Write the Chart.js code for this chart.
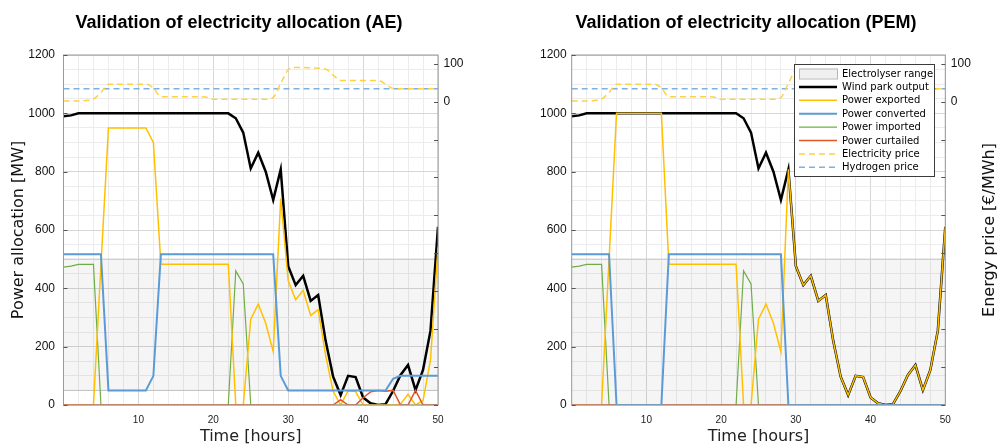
<!DOCTYPE html>
<html>
<head>
<meta charset="utf-8">
<script src="https://cdn.jsdelivr.net/npm/chart.js@4.4.1/dist/chart.umd.min.js"></script>
<style>
  body { margin: 0; background: #fff; width: 998px; height: 445px; overflow: hidden; position: relative; }
  canvas { position: absolute; top: 0; }
</style>
</head>
<body>
<canvas id="chartAE" width="500" height="445" style="left:0"></canvas>
<canvas id="chartPEM" width="498" height="445" style="left:500px"></canvas>
<script>
// time axis [hours]
const hours = [0,1,2,3,4,5,6,7,8,9,10,11,12,13,14,15,16,17,18,19,20,21,22,23,24,25,
  26,27,28,29,30,31,32,33,34,35,36,37,38,39,40,41,42,43,44,45,46,47,48,49,50];

// wind park output [MW] (same for both runs)
const windOutput = [990,993,1000,1000,1000,1000,1000,1000,1000,1000,1000,1000,1000,1000,1000,1000,
  1000,1000,1000,1000,1000,1000,1000,983,934,811,865,800,703,808,476,411,443,357,377,220,
  97,34,100,96,26,6,0,3,48,103,137,51,120,255,611];

// AE run [MW]
const exportedAE = [0,0,0,0,0,480,950,950,950,950,950,950,900,483,483,483,483,483,483,483,
  483,483,483,0,0,294,346,280,183,708,426,361,393,307,327,170,47,0,49,46,0,0,0,0,0,3,37,0,15,155,540];
const convertedAE = [517,517,517,517,517,517,50,50,50,50,50,50,100,517,517,517,517,517,517,517,
  517,517,517,517,517,517,517,517,517,100,50,50,50,50,50,50,50,50,50,50,50,50,50,50,90,100,100,100,100,100,100];
const importedAE = [473,476,482,482,482,0,0,0,0,0,0,0,0,0,0,0,0,0,0,0,0,0,0,460,415,0,
  0,0,0,0,0,0,0,0,0,0,0,0,0,0,0,0,0,0,0,0,0,0,0,0,0];
const curtailedAE = [0,0,0,0,0,0,0,0,0,0,0,0,0,0,0,0,0,0,0,0,0,0,0,0,0,0,0,0,0,0,0,0,0,0,0,0,0,
  18,0,0,25,45,50,47,50,0,0,50,0,0,0];

// PEM run [MW]
const exportedPEM = [0,0,0,0,0,500,1000,1000,1000,1000,1000,1000,1000,483,483,483,483,483,483,483,
  483,483,483,0,0,294,346,280,183,808,476,411,443,357,377,220,97,34,100,96,26,6,0,3,48,103,137,51,120,255,611];
const convertedPEM = [517,517,517,517,517,517,0,0,0,0,0,0,0,517,517,517,517,517,517,517,
  517,517,517,517,517,517,517,517,517,0,0,0,0,0,0,0,0,0,0,0,0,0,0,0,0,0,0,0,0,0,0];
const importedPEM = [473,476,482,482,482,0,0,0,0,0,0,0,0,0,0,0,0,0,0,0,0,0,0,460,415,0,
  0,0,0,0,0,0,0,0,0,0,0,0,0,0,0,0,0,0,0,0,0,0,0,0,0];
const curtailedPEM = [0,0,0,0,0,0,0,0,0,0,0,0,0,0,0,0,0,0,0,0,0,0,0,0,0,0,0,0,0,0,0,0,0,0,0,0,0,
  0,0,0,0,0,0,0,0,0,0,0,0,0,0];

// prices [EUR/MWh]
const electricityPrice = [2,2,2,3,7,24,46,46,46,46,46,46,36,13,13,13,13,13,13,12,6,6,6,6,6,6,6,6,
  11,48,84,90,90,89,88,86,70,56,56,56,56,56,56,46,35,34,34,34,34,34,34];
const hydrogenPrice = 34;

// electrolyser operating range [MW]
const rangeAE = [50, 500];
const rangePEM = [0, 500];

// tick labels
const powerTickLabels = [0, 200, 400, 600, 800, 1000, 1200];
const timeTickLabels = [10, 20, 30, 40, 50];
const priceTickLabels = [0, 100];

const legendOrder = ['Electrolyser range', 'Wind park output', 'Power exported', 'Power converted',
  'Power imported', 'Power curtailed', 'Electricity price', 'Hydrogen price'];

const COL = {
  wind: '#000000',
  exported: '#FFC000',
  converted: '#5B9BD5',
  imported: '#70AD47',
  curtailed: '#E2542A',
  elecPrice: '#FFD145',
  h2Price: '#7FB0E3',
  band: 'rgba(0,0,0,0.04)',
  bandEdge: '#c4c4c4'
};

function series(arr) {
  return hours.map((h, i) => ({ x: h, y: arr[i] }));
}
function flat(v) {
  return [{ x: hours[0], y: v }, { x: hours[hours.length - 1], y: v }];
}

// draws titles, plot box, inward ticks, right label and (optionally) the legend box
const decorPlugin = {
  id: 'decor',
  afterDraw(chart, args, opts) {
    const ctx = chart.ctx;
    const a = chart.chartArea;
    ctx.save();
    // title
    ctx.fillStyle = '#000';
    ctx.font = 'bold 18px "Liberation Sans", Arial, sans-serif';
    ctx.textAlign = 'center';
    ctx.textBaseline = 'middle';
    ctx.fillText(opts.title, opts.titleX, 23);
    // right axis label (reads bottom to top)
    if (opts.rightTitle) {
      ctx.save();
      ctx.translate(opts.rightTitleX, (a.top + a.bottom) / 2);
      ctx.rotate(-Math.PI / 2);
      ctx.fillStyle = '#111';
      ctx.font = '16px "DejaVu Sans", sans-serif';
      ctx.fillText(opts.rightTitle, 0, 0);
      ctx.restore();
    }
    // box
    ctx.strokeStyle = '#9a9a9a';
    ctx.lineWidth = 1;
    ctx.strokeRect(a.left, a.top, a.right - a.left, a.bottom - a.top);
    // inward ticks
    ctx.strokeStyle = '#555';
    const y = chart.scales.y, y1 = chart.scales.y1;
    powerTickLabels.forEach(v => {
      const py = Math.round(y.getPixelForValue(v)) + 0.5;
      ctx.beginPath(); ctx.moveTo(a.left, py); ctx.lineTo(a.left + 4, py); ctx.stroke();
    });
    y1.ticks.forEach(t => {
      const py = Math.round(y1.getPixelForValue(t.value)) + 0.5;
      ctx.beginPath(); ctx.moveTo(a.right - 4, py); ctx.lineTo(a.right, py); ctx.stroke();
    });
    // legend
    if (opts.legend) {
      const L = opts.legend;
      ctx.fillStyle = '#fff';
      ctx.fillRect(L.x, L.y, L.w, L.h);
      ctx.strokeStyle = '#3c3c3c';
      ctx.strokeRect(L.x + 0.5, L.y + 0.5, L.w, L.h);
      ctx.font = '10px "DejaVu Sans", sans-serif';
      ctx.textAlign = 'left';
      ctx.textBaseline = 'middle';
      legendOrder.forEach((label, i) => {
        const cy = L.y + 9.5 + i * 13.4;
        const x0 = L.x + 5, x1 = L.x + 43;
        const ds = chart.data.datasets.find(d => d.label === label);
        if (label === 'Electrolyser range') {
          ctx.fillStyle = '#f0f0f0';
          ctx.fillRect(x0, cy - 5, x1 - x0, 10);
          ctx.strokeStyle = '#b8b8b8';
          ctx.strokeRect(x0 + 0.5, cy - 4.5, x1 - x0, 10);
        } else {
          ctx.strokeStyle = ds.borderColor;
          ctx.lineWidth = ds.borderWidth;
          ctx.setLineDash(ds.borderDash || []);
          ctx.beginPath(); ctx.moveTo(x0, cy); ctx.lineTo(x1, cy); ctx.stroke();
          ctx.setLineDash([]);
          ctx.lineWidth = 1;
        }
        ctx.fillStyle = '#000';
        ctx.fillText(label, L.x + 48, cy + 0.5);
      });
    }
    ctx.restore();
  }
};

function makeChart(id, cfg) {
  const datasets = [
    { label: 'Electrolyser range', data: flat(cfg.range[1]), borderColor: COL.bandEdge, borderWidth: 1,
      backgroundColor: COL.band, fill: { target: { value: cfg.range[0] } }, order: 8 },
    { label: 'Electrolyser range low', data: flat(cfg.range[0]), borderColor: COL.bandEdge, borderWidth: 1,
      fill: false, order: 9 },
    { label: 'Wind park output', data: series(windOutput), borderColor: COL.wind, borderWidth: 2.5, order: 4 },
    { label: 'Power exported', data: series(cfg.exported), borderColor: COL.exported, borderWidth: 1.5, order: 3 },
    { label: 'Power converted', data: series(cfg.converted), borderColor: COL.converted, borderWidth: 2, order: 1 },
    { label: 'Power imported', data: series(cfg.imported), borderColor: COL.imported, borderWidth: 1.2, order: 5 },
    { label: 'Power curtailed', data: series(cfg.curtailed), borderColor: COL.curtailed, borderWidth: 1.5, order: 2 },
    { label: 'Electricity price', data: series(electricityPrice), yAxisID: 'y1', borderColor: COL.elecPrice,
      borderWidth: 1.5, borderDash: [6, 4], cubicInterpolationMode: 'monotone', order: 6 },
    { label: 'Hydrogen price', data: flat(hydrogenPrice), yAxisID: 'y1', borderColor: COL.h2Price,
      borderWidth: 1.5, borderDash: [6, 4], order: 7 }
  ];
  datasets.forEach(d => { d.pointRadius = 0; d.tension = d.tension || 0; if (d.fill === undefined) d.fill = false; });

  return new Chart(document.getElementById(id), {
    type: 'line',
    data: { datasets },
    options: {
      responsive: false,
      animation: false,
      devicePixelRatio: 1,
      layout: { padding: { top: 55, left: 0, right: 0, bottom: 0 } },
      plugins: {
        legend: { display: false },
        tooltip: { enabled: false },
        decor: { title: cfg.title, titleX: cfg.titleX, legend: cfg.legend,
          rightTitle: cfg.rightTitle, rightTitleX: 490 }
      },
      scales: {
        x: {
          type: 'linear', min: 0, max: 50,
          afterFit: s => { s.height = 40; },
          border: { display: false },
          grid: { drawTicks: false, color: c => timeTickLabels.includes(c.tick.value) ? '#d6d6d6' : '#ececec' },
          ticks: {
            stepSize: 2, autoSkip: false, maxRotation: 0, padding: 9, color: '#222',
            font: { family: '"Liberation Sans", Arial, sans-serif', size: 10 },
            callback: v => timeTickLabels.includes(v) ? v : ''
          },
          title: { display: true, text: 'Time [hours]', color: '#222', padding: { top: 0, bottom: 0 },
            font: { family: '"DejaVu Sans", sans-serif', size: 16, lineHeight: 1 } }
        },
        y: {
          min: 0, max: 1200,
          afterFit: s => { s.width = cfg.leftWidth; },
          border: { display: false },
          grid: { drawTicks: false, color: c => powerTickLabels.includes(c.tick.value) ? '#d6d6d6' : '#ececec' },
          ticks: {
            stepSize: 50, autoSkip: false, padding: cfg.leftPad, color: '#111',
            font: { family: '"Liberation Sans", Arial, sans-serif', size: 12 },
            callback: v => powerTickLabels.includes(v) ? v : ''
          },
          title: { display: cfg.leftTitle, text: 'Power allocation [MW]', color: '#111', padding: { top: 10.8, bottom: 0 },
            font: { family: '"DejaVu Sans", sans-serif', size: 16, lineHeight: 1 } }
        },
        y1: {
          position: 'right', min: -800, max: 123,
          afterFit: s => { s.width = cfg.rightWidth; },
          border: { display: false },
          grid: { drawOnChartArea: false, drawTicks: false },
          ticks: {
            stepSize: 100, includeBounds: false, autoSkip: false, padding: 5.5, color: '#111',
            font: { family: '"Liberation Sans", Arial, sans-serif', size: 12 },
            callback: v => priceTickLabels.includes(v) ? v : ''
          }
        }
      }
    },
    plugins: [decorPlugin]
  });
}

makeChart('chartAE', {
  title: 'Validation of electricity allocation (AE)', titleX: 239,
  range: rangeAE, exported: exportedAE, converted: convertedAE, imported: importedAE, curtailed: curtailedAE,
  leftWidth: 63.5, rightWidth: 62, leftPad: 8.5, leftTitle: true, rightTitle: null, legend: null
});

makeChart('chartPEM', {
  title: 'Validation of electricity allocation (PEM)', titleX: 246,
  range: rangePEM, exported: exportedPEM, converted: convertedPEM, imported: importedPEM, curtailed: curtailedPEM,
  leftWidth: 71.7, rightWidth: 52.7, leftPad: 5, leftTitle: false, rightTitle: 'Energy price [€/MWh]',
  legend: { x: 294, y: 64, w: 140, h: 112 }
});
</script>
</body>
</html>
